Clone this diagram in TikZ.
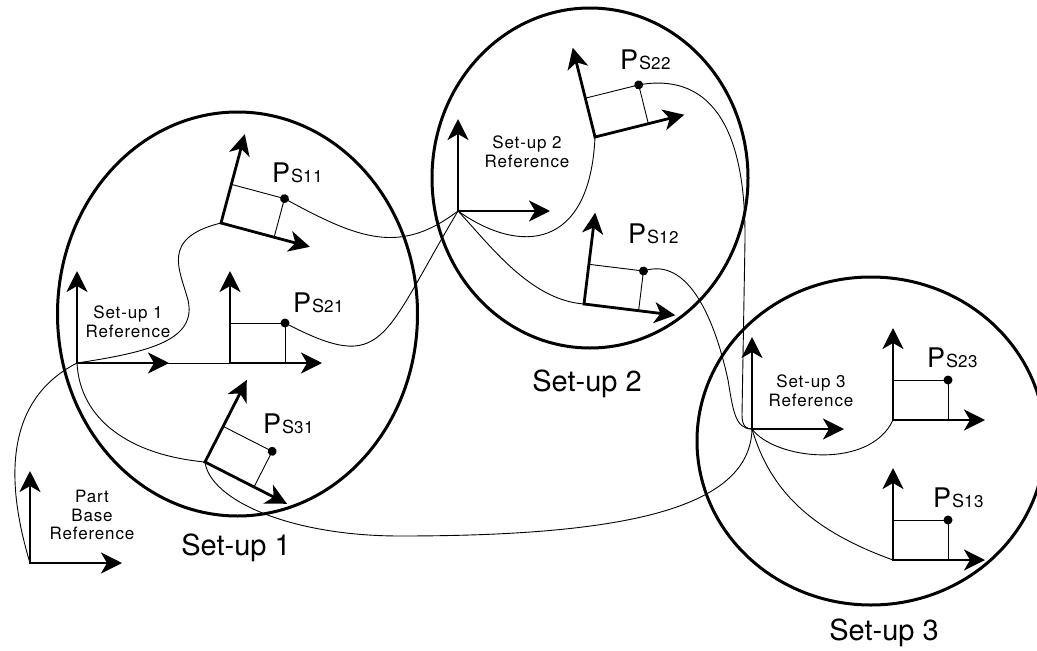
\documentclass[tikz,border=0pt]{standalone}
\usepackage{fontspec}
\setmainfont{TeX Gyre Heros}
\usetikzlibrary{arrows.meta}

\newcommand{\pslabel}[1]{\addfontfeature{LetterSpace=3}{\fontsize{27}{27}\selectfont P}\kern1pt{\fontsize{18}{18}\selectfont S}{\fontsize{17}{17}\selectfont #1}}

\begin{document}
\begin{tikzpicture}[x=1pt, y=-1pt,
    setup/.style={line width=3pt},
    axis/.style={line width=2.8pt, <->, >={Stealth[length=21pt,width=21pt,inset=6pt]}},
    link/.style={line width=0.9pt},
    reflabel/.style={align=center, font=\fontsize{17}{18.5}\selectfont\addfontfeature{LetterSpace=5}},
    title/.style={anchor=base, font=\fontsize{29}{30}\selectfont},
    plabel/.style={anchor=base west, inner sep=0pt}]
    \useasboundingbox (0,0) rectangle (1037,651);

    % set-up envelopes
    \draw[setup] (237.5,314) ellipse [x radius=180, y radius=202];
    \draw[setup] (590,178) ellipse [x radius=158, y radius=170];
    \draw[setup] (871,441) ellipse [x radius=174, y radius=164];

    % reference frames
    \foreach \nm/\x/\y in {base/30/563, r1/77/363, r2/458/211, r3/752/429}{
        \begin{scope}[shift={(\x,\y)}]
            \coordinate (\nm) at (0,0);
            \draw[axis] (0,-92) -- (\nm) -- (92,0);
        \end{scope}
    }

    % feature frames with their points
    \foreach \nm/\x/\y/\a in {s11/221/223/-15, s21/230/363/0, s31/205/462/-27, s22/595/137/14, s12/584/304/-7, s23/893/420/0, s13/893/560/0}{
        \begin{scope}[shift={(\x,\y)}, rotate=\a]
            \coordinate (\nm) at (0,0);
            \coordinate (\nm p) at (55,-40);
            \draw[link] (0,-40) -- (\nm p) -- (55,0);
            \fill (\nm p) circle[radius=4.5pt];
            \draw[axis] (0,-92) -- (\nm) -- (92,0);
        \end{scope}
    }

    % links
    \draw[link] (base) .. controls +(-25,-83) and +(-72,37) .. (r1);
    \draw[link] (r1) .. controls +(73,-11) and +(9,40) .. (188,300) .. controls +(-8,-30) and +(-61,15) .. (s11);
    \draw[link] (r1) -- (s21);
    \draw[link] (r1) .. controls +(3,57) and +(-75,-7) .. (s31);
    \draw[link] (s11p) .. controls +(75,41) and +(-58,44) .. (r2);
    \draw[link] (s21p) .. controls +(100,52) and +(-77,129) .. (r2);
    \draw[link] (r2) .. controls +(62,44) and +(-5,113) .. (s22);
    \draw[link] (r2) .. controls +(32,34) and +(-54,-4) .. (s12);
    \draw[link] (s22p) .. controls +(67,-12) and +(1,-120) .. (745,240) -- (742,415) .. controls +(0,12) and +(-5,0) .. (r3);
    \draw[link] (s12p) .. controls +(45,-15) and +(-13,-60) .. (728,380) .. controls +(5,30) and +(-17,0) .. (r3);
    \draw[link] (s31) .. controls +(5,38) and +(-110,0) .. (400,536) .. controls +(220,0) and +(-2,81) .. (r3);
    \draw[link] (r3) .. controls +(23,31) and +(-23,50) .. (s23);
    \draw[link] (r3) .. controls +(18,61) and +(-83,-30) .. (s13);

    % labels
    \node[reflabel] (basetxt) at (92,515) {Part\\Base\\Reference};
    \node[reflabel] (r1txt) at (128,322) {Set-up 1\\Reference};
    \node[reflabel] (r2txt) at (527,152) {Set-up 2\\Reference};
    \node[reflabel] (r3txt) at (811,391) {Set-up 3\\Reference};
    \node[title] (t1) at (236,555) {Set-up 1};
    \node[title] (t2) at (587,391) {Set-up 2};
    \node[title] (t3) at (884,640) {Set-up 3};
    \node[plabel] (l11) at (272,182) {\pslabel{11}};
    \node[plabel] (l21) at (293,312) {\pslabel{21}};
    \node[plabel] (l31) at (263,433) {\pslabel{31}};
    \node[plabel] (l22) at (620,69) {\pslabel{22}};
    \node[plabel] (l12) at (628,243) {\pslabel{12}};
    \node[plabel] (l23) at (927,367) {\pslabel{23}};
    \node[plabel] (l13) at (933,507) {\pslabel{13}};
\end{tikzpicture}
\end{document}
